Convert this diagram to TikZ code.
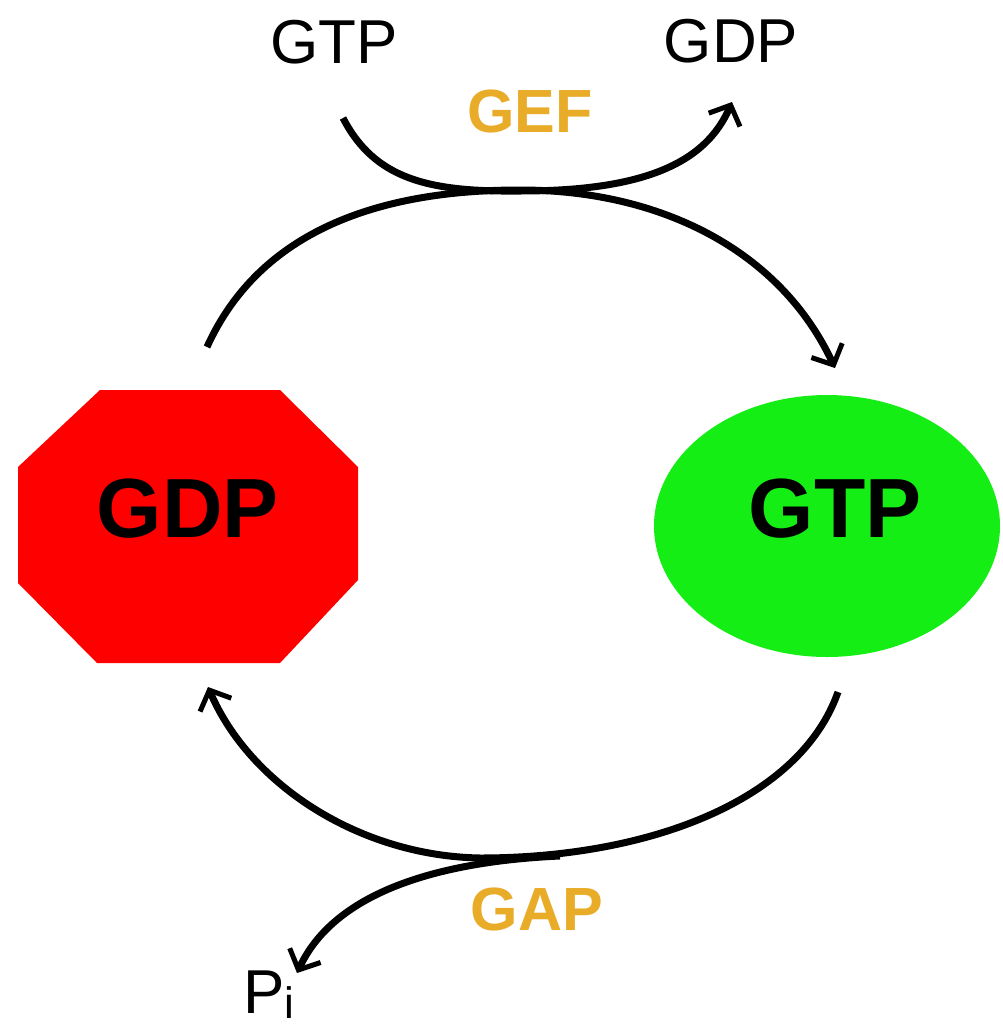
\documentclass[tikz,border=0pt]{standalone}
\usepackage{fontspec}
\setmainfont{Liberation Sans}
\usetikzlibrary{arrows.meta}
\definecolor{stopred}{RGB}{255,0,0}
\definecolor{gogreen}{RGB}{20,238,20}
\definecolor{enzyme}{RGB}{232,172,40}
\begin{document}
\begin{tikzpicture}[x=1pt,y=-1pt,
  flow/.style={line width=7pt, -{Straight Barb[length=16pt,width=34pt,line width=5pt]}},
  plain/.style={font=\fontsize{62}{62}\selectfont, inner sep=0pt, anchor=base},
  enz/.style={font=\bfseries\fontsize{61}{61}\selectfont, text=enzyme, inner sep=0pt, anchor=base},
  statelabel/.style={font=\bfseries\fontsize{84}{84}\selectfont, inner sep=0pt, anchor=base}]
\useasboundingbox (0,0) rectangle (1003,1028);
\fill[white] (0,0) rectangle (1003,1028);

% inactive state: red octagon
\fill[stopred] (100,390) -- (280,390) -- (358,467) -- (358,580) -- (280,663)
  -- (97,663) -- (18,583) -- (18,467) -- cycle;
\node[statelabel] (gdpstate) at (188,537) {GDP};

% active state: green ellipse
\fill[gogreen] (827,526) ellipse [x radius=173, y radius=131];
\node[statelabel] (gtpstate) at (835,537) {GTP};

% small labels
\node[plain] (gtpin) at (334,63) {GTP};
\node[plain] (gdpout) at (731,62) {GDP};
\node[enz] (gef) at (530,132) {GEF};
\node[enz] (gap) at (537,930) {GAP};
\node[plain, anchor=base west] (pi) at (243,1013) {P\raisebox{-5pt}{\fontsize{44}{44}\selectfont i}};

% connector end points
\coordinate (topstart) at (207,347);
\coordinate (toptip) at (835,368);
\coordinate (gefstart) at (343,118);
\coordinate (geftip) at (732,102);
\coordinate (botstart) at (838,692);
\coordinate (bottip) at (208,687);
\coordinate (gapstart) at (560,856);
\coordinate (pitip) at (297,973);

% GDP -> GTP (activation)
\draw[flow] (topstart) .. controls (260,230) and (380,190) .. (520,190)
  .. controls (660,190) and (780,250) .. (toptip);
% GTP in, GDP out
\draw[flow] (gefstart) .. controls (375,180) and (430,192) .. (520,191)
  .. controls (640,191) and (705,165) .. (geftip);
% GTP -> GDP (hydrolysis)
\draw[flow] (botstart) .. controls (800,800) and (650,858) .. (480,858)
  .. controls (360,856) and (250,785) .. (bottip);
% Pi release
\draw[flow] (gapstart) .. controls (470,860) and (340,880) .. (pitip);
\end{tikzpicture}
\end{document}
